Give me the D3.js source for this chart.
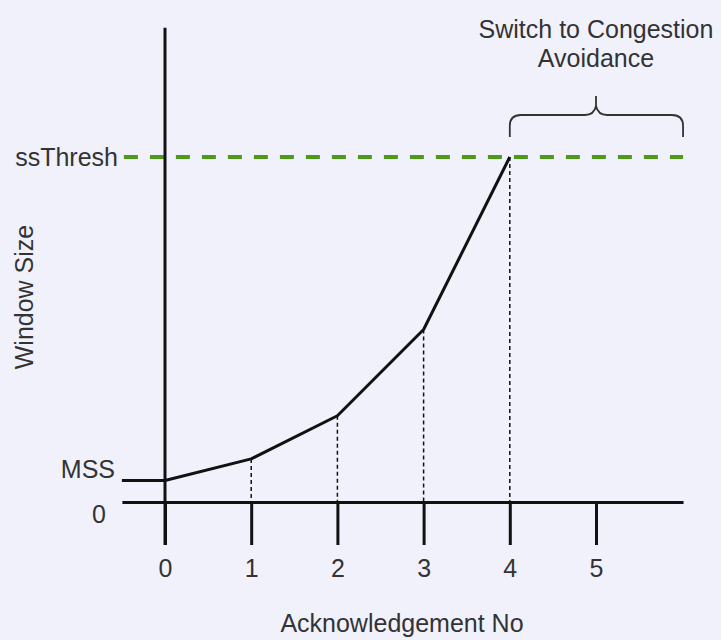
<!DOCTYPE html>
<html>
<head>
<meta charset="utf-8">
<script src="https://cdn.jsdelivr.net/npm/d3@7"></script>
<style>
  html, body { margin: 0; padding: 0; background: #f1f1fc; }
  svg { display: block; }
  text { font-family: "Liberation Sans", Arial, sans-serif; fill: #333; }
</style>
</head>
<body>
<svg id="chart" width="721" height="640"></svg>
<script>
// ---- data ----
const ackNo = [0, 1, 2, 3, 4];
const windowSize = [1, 2, 4, 8, 16];
const xTickValues = [0, 1, 2, 3, 4, 5];
const ssThresh = 16;
const mss = 1;
const xLabel = "Acknowledgement No";
const yLabel = "Window Size";
const annotationLines = ["Switch to Congestion", "Avoidance"];

// ---- scales ----
const svg = d3.select("#chart");
const x = d3.scaleLinear().domain([0, 5]).range([165, 596]);
const y = d3.scaleLinear().domain([0, 16]).range([502, 157]);
const xMin = -0.5, xMax = 6.01;
const yTop = 22;
const tickLen = 43;

// green dashed ssThresh line
svg.append("line")
  .attr("x1", x(xMin) + 2).attr("x2", x(xMax))
  .attr("y1", y(ssThresh)).attr("y2", y(ssThresh))
  .attr("stroke", "#4d9a1a").attr("stroke-width", 4)
  .attr("stroke-dasharray", "14 12");

// dotted drop lines
svg.append("g").selectAll("line")
  .data(ackNo.map((a, i) => [a, windowSize[i]]).filter(d => d[0] > 0))
  .join("line")
  .attr("x1", d => x(d[0])).attr("x2", d => x(d[0]))
  .attr("y1", d => y(d[1])).attr("y2", y(0))
  .attr("stroke", "#111").attr("stroke-width", 1.5)
  .attr("stroke-dasharray", "4 3");

// MSS stub line
svg.append("line")
  .attr("x1", x(xMin)).attr("x2", x(0))
  .attr("y1", y(mss)).attr("y2", y(mss))
  .attr("stroke", "#111").attr("stroke-width", 3);

// x axis
const xAxisScale = d3.scaleLinear().domain([xMin, xMax]).range([x(xMin), x(xMax)]);
const xAxis = svg.append("g")
  .attr("transform", `translate(0,${y(0)})`)
  .call(d3.axisBottom(xAxisScale).tickValues(xTickValues).tickFormat(d3.format("d"))
    .tickSizeInner(tickLen).tickSizeOuter(0).tickPadding(14));
xAxis.select(".domain").attr("stroke", "#111").attr("stroke-width", 3);
xAxis.selectAll(".tick line").attr("stroke", "#111").attr("stroke-width", 3);
xAxis.selectAll(".tick text").attr("font-size", 25)
  .attr("font-family", "Liberation Sans, Arial, sans-serif").attr("fill", "#333");

// vertical axis
svg.append("line")
  .attr("x1", x(0)).attr("x2", x(0))
  .attr("y1", y(yTop)).attr("y2", y(0) + tickLen)
  .attr("stroke", "#111").attr("stroke-width", 3);

// data line
const line = d3.line().x(d => x(d[0])).y(d => y(d[1]));
svg.append("path")
  .datum(ackNo.map((a, i) => [a, windowSize[i]]))
  .attr("d", line)
  .attr("fill", "none").attr("stroke", "#111").attr("stroke-width", 3)
  .attr("stroke-linejoin", "round");

// y labels
svg.append("text").attr("x", 118).attr("y", y(ssThresh) + 9)
  .attr("text-anchor", "end").attr("font-size", 25).text("ssThresh");
svg.append("text").attr("x", 115).attr("y", y(mss) - 2)
  .attr("text-anchor", "end").attr("font-size", 25).text("MSS");
svg.append("text").attr("x", 106).attr("y", y(0) + 21)
  .attr("text-anchor", "end").attr("font-size", 25).text("0");

// axis titles
svg.append("text").attr("x", 402).attr("y", 632)
  .attr("text-anchor", "middle").attr("font-size", 25).text(xLabel);
svg.append("text")
  .attr("transform", "translate(33,297) rotate(-90)")
  .attr("text-anchor", "middle").attr("font-size", 25).text(yLabel);

// brace over switch region
const bx0 = x(4), bx1 = x(xMax), bxm = x(5);
const bBot = 137, bMid = 115, bTop = 96, r = 11;
const brace = `M${bx0},${bBot} V${bMid + r} Q${bx0},${bMid} ${bx0 + r},${bMid} H${bxm - r} Q${bxm - 2},${bMid} ${bxm},${bMid - 9} V${bTop}`
  + ` M${bxm},${bMid - 9} Q${bxm + 2},${bMid} ${bxm + r},${bMid} H${bx1 - r} Q${bx1},${bMid} ${bx1},${bMid + r} V${bBot}`;
svg.append("path").attr("d", brace)
  .attr("fill", "none").attr("stroke", "#333").attr("stroke-width", 1.8);

// annotation text
svg.append("text").attr("x", bxm).attr("y", 38)
  .attr("text-anchor", "middle").attr("font-size", 25)
  .selectAll("tspan").data(annotationLines).join("tspan")
  .attr("x", bxm).attr("dy", (d, i) => i === 0 ? 0 : 29).text(d => d);
</script>
</body>
</html>
